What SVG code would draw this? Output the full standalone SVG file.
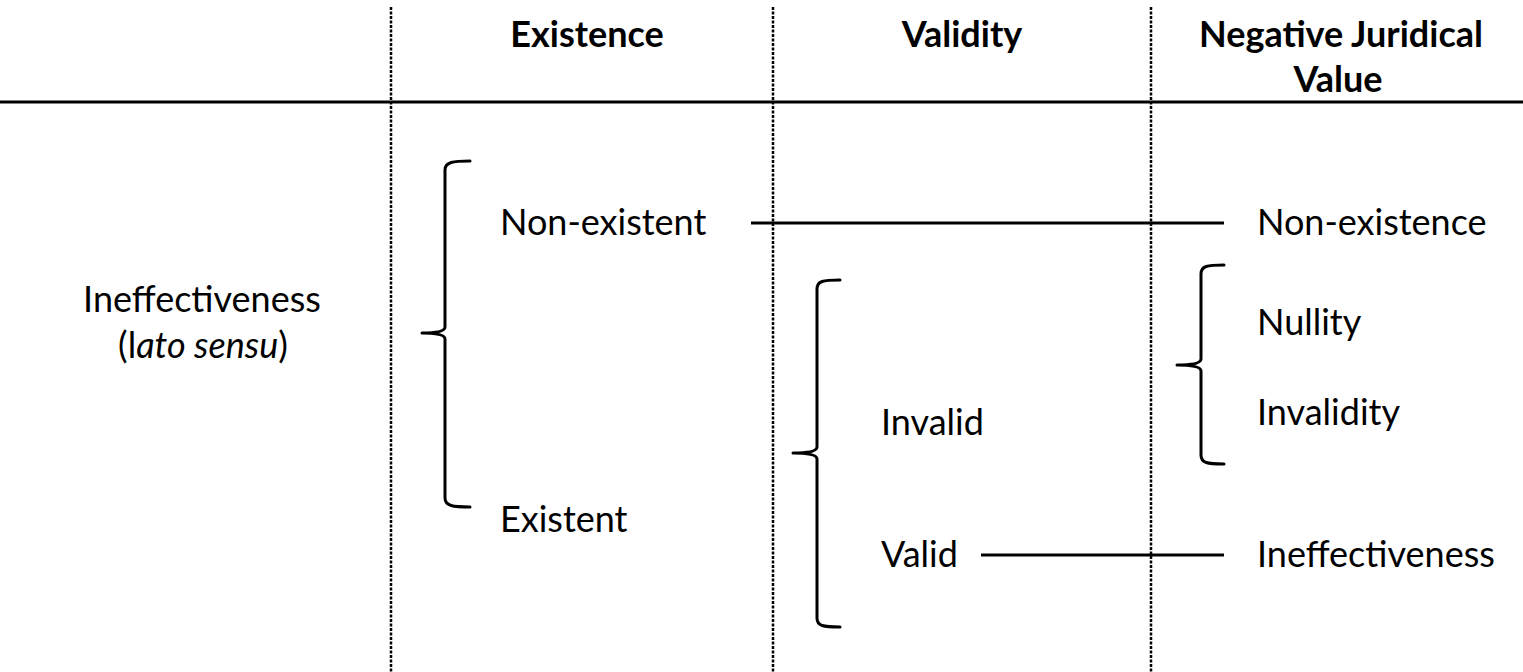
<svg xmlns="http://www.w3.org/2000/svg" width="1523" height="672" viewBox="0 0 1523 672">
<style>
.t{font-family:Lato,"Liberation Sans",sans-serif;font-size:36px;fill:#000}
.h{font-weight:bold;text-anchor:middle}
.c{text-anchor:middle}
.br{fill:none;stroke:#000;stroke-width:3;stroke-linecap:round;stroke-linejoin:round}
.ln{stroke:#000;stroke-width:3}
.dot{stroke:#000;stroke-width:2.5;stroke-dasharray:3 1.5}
</style>
<rect width="1523" height="672" fill="#fff"/>
<g id="grid">
<line class="dot" x1="391" y1="7" x2="391" y2="672"/>
<line class="dot" x1="773" y1="7" x2="773" y2="672"/>
<line class="dot" x1="1151" y1="7" x2="1151" y2="672"/>
<line x1="0" y1="102" x2="1523" y2="102" stroke="#000" stroke-width="3"/>
</g>
<g id="headers">
<text class="t h" x="587" y="47">Existence</text>
<text class="t h" x="962" y="47">Validity</text>
<text class="t h" x="1341" y="47">Negative Juridical</text>
<text class="t h" x="1338" y="92">Value</text>
</g>
<g id="root">
<text class="t c" x="202" y="312">Ineffectiveness</text>
<text class="t c" x="203" y="358">(l<tspan font-style="italic">ato sensu</tspan>)</text>
</g>
<g id="brace-existence"><path class="br" d="M470,161 C453,161 445,162 445,170 L445,327 Q445,333 422,333 Q445,333 445,339 L445,498 C445,506 453,507 470,507"/></g>
<g id="brace-validity"><path class="br" d="M840,280 C823,280 817,281 817,289 L817,447 Q817,453 793,453 Q817,453 817,459 L817,618 C817,626 823,627 840,627"/></g>
<g id="brace-njv"><path class="br" d="M1224,265 C1207,265 1201,266 1201,274 L1201,359 Q1201,365 1177,365 Q1201,365 1201,371 L1201,455 C1201,463 1207,464 1224,464"/></g>
<g id="n-nonexistent"><text class="t" x="500" y="235">Non-existent</text></g>
<g id="n-existent"><text class="t" x="500" y="532">Existent</text></g>
<g id="n-invalid"><text class="t" x="881" y="435">Invalid</text></g>
<g id="n-valid"><text class="t" x="881" y="567">Valid</text></g>
<g id="n-nonexistence"><text class="t" x="1257" y="235">Non-existence</text></g>
<g id="n-nullity"><text class="t" x="1257" y="335">Nullity</text></g>
<g id="n-invalidity"><text class="t" x="1257" y="425">Invalidity</text></g>
<g id="n-ineffectiveness"><text class="t" x="1257" y="567">Ineffectiveness</text></g>
<g id="connectors">
<line class="ln" x1="751" y1="223" x2="1224" y2="223"/>
<line class="ln" x1="981" y1="555" x2="1224" y2="555"/>
</g>
</svg>
